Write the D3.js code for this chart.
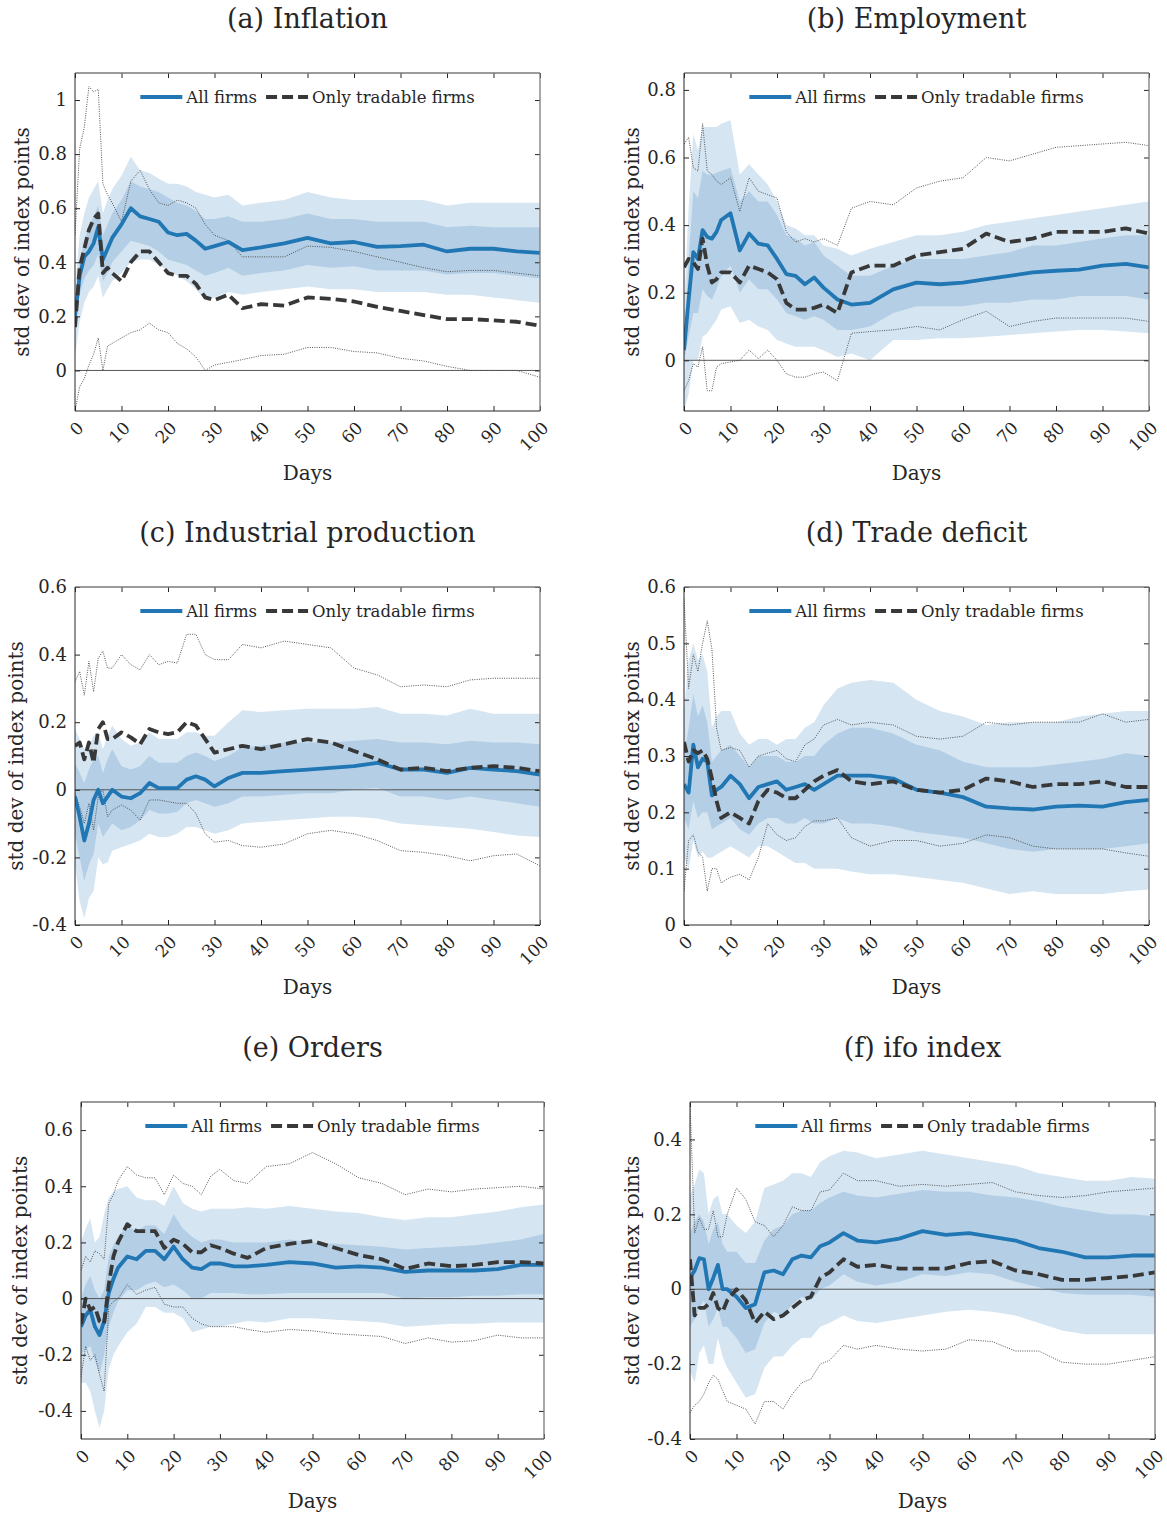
<!DOCTYPE html>
<html>
<head>
<meta charset="utf-8">
<script src="https://cdn.jsdelivr.net/npm/d3@7"></script>
<style>
  body { margin: 0; background: #fff; }
  svg { display: block; }
  text { font-family: "DejaVu Serif", serif; fill: #262626; }
</style>
</head>
<body>
<div id="chart"></div>
<script>
var days = [0, 1, 2, 3, 4, 5, 6, 7, 8, 10, 12, 14, 16, 18, 20, 22, 24, 26, 28, 30, 33, 36, 40, 45, 50, 55, 60, 65, 70, 75, 80, 85, 90, 95, 100];
var xTicks = [0, 10, 20, 30, 40, 50, 60, 70, 80, 90, 100];

// (a) Inflation
var aMean    = [0.20,0.35,0.42,0.44,0.47,0.53,0.41,0.45,0.49, 0.54,0.60,0.57,0.56,0.55,0.51,0.50,0.505,0.48,0.45,0.46, 0.475,0.445,0.455, 0.47,0.49,0.47,0.475,0.457,0.46,0.465,0.44,0.45,0.45,0.44,0.435];
var aInnerHi = [0.24,0.40,0.48,0.53,0.57,0.61,0.50,0.54,0.58, 0.63,0.70,0.68,0.67,0.66,0.64,0.62,0.61,0.59,0.56,0.56, 0.57,0.55,0.55, 0.56,0.58,0.56,0.56,0.55,0.55,0.55,0.53,0.535,0.53,0.53,0.53];
var aInnerLo = [0.15,0.28,0.34,0.37,0.39,0.43,0.33,0.36,0.40, 0.44,0.48,0.47,0.46,0.44,0.41,0.40,0.39,0.37,0.35,0.36, 0.38,0.35,0.36, 0.37,0.39,0.38,0.385,0.37,0.37,0.37,0.355,0.36,0.36,0.35,0.34];
var aOuterHi = [0.30,0.50,0.58,0.64,0.67,0.70,0.58,0.63,0.67, 0.72,0.79,0.74,0.73,0.71,0.69,0.69,0.68,0.66,0.65,0.64, 0.65,0.61,0.62, 0.63,0.66,0.64,0.63,0.63,0.63,0.63,0.61,0.62,0.62,0.62,0.62];
var aOuterLo = [0.05,0.18,0.25,0.29,0.31,0.35,0.27,0.30,0.33, 0.36,0.40,0.41,0.41,0.39,0.37,0.35,0.33,0.30,0.26,0.27, 0.29,0.28,0.29, 0.30,0.31,0.30,0.30,0.29,0.29,0.29,0.28,0.28,0.27,0.26,0.25];
var aTrad    = [0.16,0.38,0.45,0.52,0.56,0.58,0.36,0.38,0.36, 0.33,0.40,0.44,0.44,0.40,0.36,0.35,0.35,0.32,0.27,0.26, 0.28,0.23,0.245, 0.24,0.27,0.265,0.255,0.235,0.22,0.205,0.19,0.19,0.185,0.18,0.165];
var aTradHi  = [0.50,0.82,0.90,1.05,1.03,1.04,0.69,0.65,0.62, 0.55,0.70,0.74,0.67,0.62,0.61,0.63,0.62,0.60,0.54,0.50, 0.48,0.42,0.42, 0.42,0.46,0.455,0.44,0.42,0.40,0.38,0.365,0.37,0.37,0.36,0.35];
var aTradLo  = [-0.15,-0.06,-0.03,0.02,0.06,0.12,0.0,0.09,0.10, 0.12,0.14,0.15,0.175,0.15,0.14,0.10,0.08,0.05,0.0,0.02, 0.03,0.04,0.055, 0.06,0.085,0.085,0.07,0.065,0.045,0.035,0.015,0.0,0.0,0.0,-0.025];

// (b) Employment
var bMean    = [0.03,0.18,0.32,0.30,0.385,0.365,0.36,0.38,0.415, 0.435,0.325,0.375,0.345,0.34,0.30,0.255,0.25,0.225,0.245,0.215, 0.18,0.165,0.17, 0.21,0.23,0.225,0.23,0.24,0.25,0.26,0.265,0.268,0.28,0.285,0.275];
var bInnerHi = [0.05,0.30,0.50,0.48,0.56,0.55,0.55,0.555,0.56, 0.57,0.47,0.50,0.47,0.47,0.43,0.37,0.36,0.34,0.35,0.31, 0.28,0.25,0.25, 0.28,0.30,0.30,0.30,0.31,0.32,0.34,0.34,0.35,0.36,0.37,0.37];
var bInnerLo = [0.0,0.07,0.14,0.14,0.21,0.19,0.18,0.21,0.25, 0.28,0.20,0.24,0.21,0.21,0.18,0.14,0.13,0.12,0.13,0.12, 0.09,0.09,0.10, 0.14,0.16,0.16,0.16,0.17,0.17,0.18,0.18,0.19,0.19,0.19,0.18];
var bOuterHi = [0.15,0.45,0.67,0.62,0.69,0.69,0.69,0.69,0.70, 0.71,0.55,0.58,0.55,0.52,0.47,0.40,0.39,0.37,0.37,0.34, 0.33,0.31,0.33, 0.35,0.37,0.37,0.38,0.40,0.41,0.42,0.43,0.44,0.45,0.46,0.47];
var bOuterLo = [-0.15,-0.10,0.0,0.0,0.07,0.08,0.10,0.12,0.15, 0.16,0.11,0.12,0.10,0.09,0.06,0.05,0.04,0.04,0.04,0.03, 0.01,0.02,0.0, 0.06,0.06,0.065,0.065,0.07,0.075,0.08,0.085,0.09,0.09,0.085,0.08];
var bTrad    = [0.275,0.30,0.29,0.27,0.36,0.28,0.23,0.24,0.26, 0.26,0.23,0.28,0.27,0.26,0.24,0.17,0.15,0.15,0.155,0.165, 0.14,0.26,0.28, 0.28,0.31,0.32,0.33,0.375,0.35,0.36,0.38,0.38,0.38,0.39,0.375];
var bTradHi  = [0.64,0.66,0.57,0.56,0.70,0.56,0.55,0.53,0.52, 0.54,0.44,0.54,0.50,0.49,0.48,0.38,0.35,0.36,0.35,0.36, 0.34,0.45,0.47, 0.46,0.51,0.53,0.54,0.60,0.59,0.61,0.63,0.635,0.64,0.645,0.635];
var bTradLo  = [-0.09,-0.06,-0.01,-0.02,0.04,-0.09,-0.09,-0.02,-0.01, -0.005,0.0,0.03,0.005,0.03,0.0,-0.04,-0.05,-0.05,-0.04,-0.035, -0.06,0.08,0.085, 0.09,0.10,0.09,0.12,0.145,0.10,0.115,0.125,0.125,0.125,0.125,0.115];

// (c) Industrial production
var cMean    = [-0.02,-0.08,-0.15,-0.10,-0.03,0.0,-0.04,-0.02,0.0, -0.02,-0.025,-0.01,0.02,0.005,0.005,0.005,0.03,0.04,0.03,0.01, 0.035,0.05,0.05, 0.055,0.06,0.065,0.07,0.08,0.06,0.06,0.05,0.065,0.06,0.055,0.045];
var cInnerHi = [0.08,0.05,0.02,0.06,0.09,0.10,0.05,0.09,0.12, 0.07,0.06,0.07,0.10,0.08,0.08,0.08,0.10,0.11,0.10,0.085, 0.10,0.125,0.13, 0.14,0.14,0.14,0.145,0.15,0.14,0.14,0.135,0.145,0.14,0.14,0.135];
var cInnerLo = [-0.13,-0.20,-0.27,-0.22,-0.19,-0.10,-0.14,-0.12,-0.10, -0.12,-0.11,-0.09,-0.06,-0.07,-0.07,-0.065,-0.04,-0.03,-0.04,-0.05, -0.04,-0.02,-0.02, -0.015,-0.01,-0.01,0.0,0.005,-0.02,-0.02,-0.03,-0.02,-0.03,-0.04,-0.05];
var cOuterHi = [0.18,0.15,0.12,0.13,0.16,0.17,0.12,0.16,0.19, 0.15,0.13,0.14,0.17,0.15,0.15,0.15,0.17,0.17,0.16,0.16, 0.20,0.235,0.23, 0.235,0.24,0.24,0.24,0.245,0.225,0.225,0.22,0.24,0.225,0.225,0.225];
var cOuterLo = [-0.22,-0.33,-0.38,-0.32,-0.30,-0.20,-0.22,-0.215,-0.18, -0.17,-0.16,-0.15,-0.13,-0.14,-0.14,-0.13,-0.11,-0.11,-0.12,-0.13, -0.12,-0.10,-0.095, -0.09,-0.085,-0.08,-0.08,-0.085,-0.10,-0.105,-0.11,-0.115,-0.125,-0.135,-0.14];
var cTrad    = [0.13,0.14,0.09,0.14,0.08,0.18,0.20,0.15,0.15, 0.17,0.155,0.135,0.18,0.17,0.165,0.17,0.20,0.19,0.15,0.11, 0.12,0.13,0.12, 0.135,0.15,0.14,0.115,0.09,0.06,0.065,0.055,0.065,0.07,0.065,0.055];
var cTradHi  = [0.32,0.35,0.28,0.38,0.29,0.39,0.41,0.36,0.36, 0.40,0.37,0.355,0.40,0.37,0.38,0.375,0.46,0.46,0.40,0.385, 0.385,0.43,0.42, 0.44,0.43,0.42,0.36,0.34,0.305,0.31,0.305,0.325,0.33,0.33,0.33];
var cTradLo  = [-0.01,-0.05,-0.10,-0.04,-0.12,-0.02,0.0,-0.08,-0.06, -0.045,-0.06,-0.09,-0.03,-0.03,-0.035,-0.04,-0.04,-0.07,-0.13,-0.155, -0.15,-0.165,-0.17, -0.16,-0.13,-0.12,-0.13,-0.15,-0.18,-0.185,-0.195,-0.21,-0.195,-0.19,-0.225];

// (d) Trade deficit
var dMean    = [0.25,0.235,0.32,0.28,0.295,0.29,0.23,0.24,0.245, 0.265,0.25,0.225,0.245,0.25,0.255,0.24,0.245,0.25,0.24,0.25, 0.265,0.265,0.265, 0.26,0.24,0.235,0.227,0.21,0.207,0.205,0.21,0.212,0.21,0.218,0.222];
var dInnerHi = [0.30,0.35,0.41,0.37,0.39,0.36,0.29,0.30,0.31, 0.32,0.30,0.28,0.30,0.30,0.30,0.29,0.29,0.30,0.30,0.32, 0.34,0.35,0.35, 0.34,0.32,0.31,0.29,0.28,0.28,0.28,0.285,0.29,0.295,0.305,0.30];
var dInnerLo = [0.19,0.17,0.22,0.19,0.20,0.20,0.17,0.175,0.18, 0.19,0.17,0.16,0.18,0.19,0.19,0.18,0.18,0.19,0.18,0.18, 0.19,0.18,0.18, 0.175,0.165,0.16,0.155,0.145,0.135,0.13,0.135,0.135,0.135,0.14,0.145];
var dOuterHi = [0.38,0.47,0.50,0.47,0.48,0.45,0.35,0.37,0.38, 0.38,0.34,0.32,0.33,0.33,0.32,0.33,0.33,0.35,0.36,0.39, 0.42,0.43,0.435, 0.43,0.40,0.38,0.37,0.355,0.36,0.36,0.36,0.37,0.375,0.38,0.38];
var dOuterLo = [0.12,0.10,0.15,0.12,0.13,0.12,0.12,0.125,0.13, 0.14,0.13,0.12,0.14,0.14,0.13,0.12,0.11,0.11,0.10,0.10, 0.10,0.095,0.09, 0.09,0.085,0.08,0.075,0.065,0.055,0.06,0.055,0.055,0.055,0.06,0.063];
var dTrad    = [0.325,0.29,0.31,0.305,0.31,0.295,0.26,0.22,0.19, 0.20,0.19,0.18,0.22,0.24,0.235,0.225,0.225,0.24,0.255,0.265, 0.275,0.255,0.25, 0.255,0.24,0.235,0.24,0.26,0.255,0.245,0.25,0.25,0.255,0.245,0.245];
var dTradHi  = [0.58,0.42,0.48,0.45,0.50,0.54,0.49,0.35,0.31, 0.315,0.31,0.28,0.30,0.305,0.31,0.295,0.29,0.32,0.33,0.355, 0.365,0.355,0.36, 0.355,0.335,0.33,0.335,0.36,0.355,0.36,0.36,0.36,0.375,0.36,0.365];
var dTradLo  = [0.06,0.15,0.16,0.13,0.12,0.06,0.10,0.10,0.075, 0.085,0.09,0.08,0.12,0.18,0.16,0.15,0.155,0.175,0.185,0.185, 0.19,0.155,0.14, 0.15,0.15,0.14,0.145,0.16,0.155,0.14,0.135,0.135,0.135,0.128,0.122];

// (e) Orders
var eMean    = [-0.10,-0.06,-0.04,-0.10,-0.13,-0.08,0.02,0.07,0.11, 0.15,0.14,0.17,0.17,0.14,0.185,0.14,0.11,0.105,0.125,0.125, 0.115,0.115,0.12, 0.13,0.125,0.11,0.115,0.11,0.095,0.10,0.10,0.10,0.105,0.12,0.12];
var eInnerHi = [0.0,0.05,0.08,0.03,0.0,0.03,0.15,0.19,0.22, 0.26,0.24,0.26,0.26,0.23,0.30,0.25,0.22,0.20,0.21,0.21, 0.20,0.20,0.20, 0.21,0.20,0.195,0.19,0.185,0.175,0.18,0.185,0.19,0.20,0.21,0.23];
var eInnerLo = [-0.20,-0.18,-0.17,-0.22,-0.27,-0.20,-0.10,-0.05,-0.01, 0.03,0.03,0.05,0.06,0.04,0.05,0.03,0.0,0.0,0.02,0.02, 0.02,0.015,0.015, 0.02,0.02,0.02,0.02,0.02,0.0,0.005,0.005,0.01,0.01,0.015,0.015];
var eOuterHi = [0.20,0.25,0.285,0.20,0.22,0.30,0.36,0.38,0.39, 0.40,0.36,0.35,0.35,0.33,0.40,0.34,0.32,0.31,0.32,0.32, 0.32,0.325,0.32, 0.33,0.32,0.31,0.305,0.29,0.28,0.29,0.29,0.30,0.31,0.325,0.335];
var eOuterLo = [-0.30,-0.30,-0.33,-0.40,-0.46,-0.40,-0.25,-0.20,-0.17, -0.12,-0.09,-0.03,-0.03,-0.05,-0.05,-0.07,-0.12,-0.11,-0.10,-0.10, -0.09,-0.08,-0.085, -0.07,-0.07,-0.075,-0.08,-0.085,-0.10,-0.095,-0.09,-0.09,-0.085,-0.085,-0.085];
var eTrad    = [-0.09,0.0,-0.04,-0.03,-0.08,-0.09,0.05,0.15,0.20, 0.265,0.24,0.24,0.24,0.18,0.21,0.195,0.165,0.165,0.19,0.18, 0.16,0.145,0.18, 0.195,0.205,0.18,0.155,0.14,0.105,0.125,0.115,0.12,0.13,0.13,0.125];
var eTradHi  = [0.10,0.15,0.13,0.17,0.16,0.14,0.34,0.37,0.42, 0.47,0.44,0.43,0.43,0.37,0.44,0.41,0.40,0.37,0.435,0.46, 0.42,0.41,0.47, 0.48,0.52,0.48,0.43,0.41,0.37,0.39,0.38,0.39,0.395,0.40,0.39];
var eTradLo  = [-0.28,-0.17,-0.22,-0.20,-0.27,-0.33,-0.03,-0.01,0.0, 0.05,0.015,0.03,0.04,-0.02,-0.03,-0.03,-0.07,-0.09,-0.10,-0.10, -0.10,-0.11,-0.12, -0.11,-0.115,-0.125,-0.13,-0.135,-0.16,-0.14,-0.155,-0.15,-0.13,-0.14,-0.14];

// (f) ifo index
var fMean    = [0.03,0.05,0.083,0.08,0.0,0.03,0.065,0.0,0.0, -0.02,-0.05,-0.04,0.045,0.05,0.04,0.08,0.09,0.085,0.115,0.125, 0.15,0.13,0.125, 0.135,0.155,0.145,0.15,0.14,0.13,0.11,0.10,0.085,0.085,0.09,0.09];
var fInnerHi = [0.15,0.18,0.20,0.18,0.12,0.16,0.18,0.12,0.10, 0.10,0.07,0.07,0.13,0.16,0.17,0.20,0.21,0.21,0.23,0.245, 0.26,0.25,0.245, 0.255,0.265,0.26,0.26,0.25,0.245,0.235,0.22,0.21,0.20,0.20,0.195];
var fInnerLo = [-0.10,-0.08,-0.05,-0.03,-0.10,-0.08,-0.05,-0.10,-0.10, -0.13,-0.17,-0.16,-0.09,-0.06,-0.07,-0.04,-0.02,-0.03,0.0,0.01, 0.04,0.02,0.01, 0.02,0.04,0.035,0.045,0.04,0.02,0.005,-0.01,-0.015,-0.015,-0.015,-0.02];
var fOuterHi = [0.25,0.28,0.32,0.31,0.20,0.24,0.25,0.20,0.20, 0.17,0.15,0.18,0.27,0.28,0.29,0.31,0.31,0.30,0.34,0.355, 0.37,0.365,0.35, 0.36,0.37,0.36,0.35,0.34,0.33,0.31,0.30,0.29,0.29,0.30,0.295];
var fOuterLo = [-0.22,-0.25,-0.17,-0.15,-0.20,-0.20,-0.13,-0.18,-0.21, -0.25,-0.29,-0.28,-0.21,-0.18,-0.18,-0.15,-0.13,-0.13,-0.10,-0.09, -0.07,-0.085,-0.09, -0.08,-0.07,-0.06,-0.055,-0.06,-0.07,-0.09,-0.11,-0.12,-0.12,-0.12,-0.12];
var fTrad    = [0.08,-0.07,-0.05,-0.05,-0.04,-0.01,-0.05,-0.06,-0.03, 0.0,-0.03,-0.09,-0.06,-0.08,-0.07,-0.05,-0.03,-0.02,0.03,0.045, 0.08,0.06,0.065, 0.055,0.055,0.055,0.07,0.075,0.05,0.04,0.025,0.025,0.03,0.035,0.045];
var fTradHi  = [0.50,0.15,0.19,0.16,0.16,0.21,0.14,0.14,0.20, 0.27,0.24,0.18,0.17,0.14,0.17,0.22,0.21,0.21,0.26,0.265, 0.31,0.29,0.29, 0.275,0.28,0.275,0.28,0.285,0.26,0.25,0.245,0.25,0.26,0.265,0.27];
var fTradLo  = [-0.33,-0.31,-0.30,-0.28,-0.25,-0.23,-0.24,-0.27,-0.30, -0.31,-0.32,-0.36,-0.30,-0.30,-0.32,-0.28,-0.25,-0.24,-0.20,-0.19, -0.15,-0.16,-0.15, -0.16,-0.165,-0.16,-0.135,-0.14,-0.165,-0.165,-0.195,-0.20,-0.20,-0.19,-0.18];

var legendLabels = ['All firms', 'Only tradable firms'];

// panel layout (plot box in page pixels)
var panels = [
  { title: '(a) Inflation', x0: 75, x1: 540, y0: 73, y1: 411, yDomain: [-0.15, 1.1], yTicks: [0, 0.2, 0.4, 0.6, 0.8, 1], yLabelX: 22,
    mean: aMean, inHi: aInnerHi, inLo: aInnerLo, outHi: aOuterHi, outLo: aOuterLo, trad: aTrad, tHi: aTradHi, tLo: aTradLo },
  { title: '(b) Employment', x0: 684, x1: 1149, y0: 73, y1: 411, yDomain: [-0.15, 0.85], yTicks: [0, 0.2, 0.4, 0.6, 0.8], yLabelX: 632,
    mean: bMean, inHi: bInnerHi, inLo: bInnerLo, outHi: bOuterHi, outLo: bOuterLo, trad: bTrad, tHi: bTradHi, tLo: bTradLo },
  { title: '(c) Industrial production', x0: 75, x1: 540, y0: 587, y1: 925, yDomain: [-0.4, 0.6], yTicks: [-0.4, -0.2, 0, 0.2, 0.4, 0.6], yLabelX: 16,
    mean: cMean, inHi: cInnerHi, inLo: cInnerLo, outHi: cOuterHi, outLo: cOuterLo, trad: cTrad, tHi: cTradHi, tLo: cTradLo },
  { title: '(d) Trade deficit', x0: 684, x1: 1149, y0: 587, y1: 925, yDomain: [0, 0.6], yTicks: [0, 0.1, 0.2, 0.3, 0.4, 0.5, 0.6], yLabelX: 632,
    mean: dMean, inHi: dInnerHi, inLo: dInnerLo, outHi: dOuterHi, outLo: dOuterLo, trad: dTrad, tHi: dTradHi, tLo: dTradLo },
  { title: '(e) Orders', x0: 81, x1: 544, y0: 1102, y1: 1439, yDomain: [-0.5, 0.7], yTicks: [-0.4, -0.2, 0, 0.2, 0.4, 0.6], yLabelX: 20,
    mean: eMean, inHi: eInnerHi, inLo: eInnerLo, outHi: eOuterHi, outLo: eOuterLo, trad: eTrad, tHi: eTradHi, tLo: eTradLo },
  { title: '(f) ifo index', x0: 690, x1: 1155, y0: 1102, y1: 1439, yDomain: [-0.4, 0.5], yTicks: [-0.4, -0.2, 0, 0.2, 0.4], yLabelX: 632,
    mean: fMean, inHi: fInnerHi, inLo: fInnerLo, outHi: fOuterHi, outLo: fOuterLo, trad: fTrad, tHi: fTradHi, tLo: fTradLo }
];

var W = 1167, H = 1518;
var blue = '#2176b4', dark = '#383838';
var svg = d3.select('#chart').append('svg').attr('width', W).attr('height', H);

var fmt = function (d) { return String(+d.toFixed(2)); };

panels.forEach(function (p, k) {
  var x = d3.scaleLinear().domain([0, 100]).range([p.x0, p.x1]);
  var y = d3.scaleLinear().domain(p.yDomain).range([p.y1, p.y0]);
  var g = svg.append('g');

  var clipId = 'clip' + k;
  svg.append('clipPath').attr('id', clipId)
    .append('rect').attr('x', p.x0).attr('y', p.y0)
    .attr('width', p.x1 - p.x0).attr('height', p.y1 - p.y0);

  var plot = g.append('g').attr('clip-path', 'url(#' + clipId + ')');

  var band = function (lo) {
    return d3.area()
      .x(function (d, i) { return x(days[i]); })
      .y0(function (d, i) { return y(lo[i]); })
      .y1(function (d) { return y(d); });
  };
  var line = d3.line()
    .x(function (d, i) { return x(days[i]); })
    .y(function (d) { return y(d); });

  plot.append('path').attr('d', band(p.outLo)(p.outHi)).attr('fill', '#d5e5f2');
  plot.append('path').attr('d', band(p.inLo)(p.inHi)).attr('fill', '#b4cfe5');

  // zero line
  if (p.yDomain[0] < 0) {
    plot.append('line').attr('x1', p.x0).attr('x2', p.x1)
      .attr('y1', y(0)).attr('y2', y(0))
      .attr('stroke', '#555').attr('stroke-width', 1);
  }

  [p.tHi, p.tLo].forEach(function (s) {
    plot.append('path').attr('d', line(s)).attr('fill', 'none')
      .attr('stroke', '#444').attr('stroke-width', 0.9)
      .attr('stroke-dasharray', '1,1.3');
  });

  plot.append('path').attr('d', line(p.mean)).attr('fill', 'none')
    .attr('stroke', blue).attr('stroke-width', 3.8).attr('stroke-linejoin', 'round');
  plot.append('path').attr('d', line(p.trad)).attr('fill', 'none')
    .attr('stroke', dark).attr('stroke-width', 3.8).attr('stroke-linejoin', 'round')
    .attr('stroke-dasharray', '11,5');

  // axes: ticks pointing inward on all four sides
  var axL = g.append('g').attr('transform', 'translate(' + p.x0 + ',0)')
    .call(d3.axisLeft(y).tickValues(p.yTicks).tickSizeInner(-5).tickSizeOuter(0).tickPadding(8).tickFormat(fmt));
  g.append('g').attr('transform', 'translate(' + p.x1 + ',0)')
    .call(d3.axisRight(y).tickValues(p.yTicks).tickSizeInner(-5).tickSizeOuter(0).tickFormat(''));
  var axB = g.append('g').attr('transform', 'translate(0,' + p.y1 + ')')
    .call(d3.axisBottom(x).tickValues(xTicks).tickSizeInner(-5).tickSizeOuter(0).tickFormat(fmt));
  g.append('g').attr('transform', 'translate(0,' + p.y0 + ')')
    .call(d3.axisTop(x).tickValues(xTicks).tickSizeInner(-5).tickSizeOuter(0).tickFormat(''));

  g.selectAll('.domain').remove();
  g.selectAll('.tick line').attr('stroke', '#262626').attr('stroke-width', 1);
  axL.selectAll('text').attr('font-size', 18).attr('font-family', '"DejaVu Serif", serif').attr('fill', '#262626');
  axB.selectAll('text')
    .attr('font-size', 17).attr('font-family', '"DejaVu Serif", serif').attr('fill', '#262626')
    .attr('y', 0).attr('dy', '0.35em')
    .attr('text-anchor', 'end')
    .attr('transform', 'translate(5,14) rotate(-45)');

  // box
  g.append('line').attr('x1', p.x0).attr('x2', p.x1).attr('y1', p.y0).attr('y2', p.y0).attr('stroke', '#7a7a7a').attr('stroke-width', 1.3);
  g.append('line').attr('x1', p.x1).attr('x2', p.x1).attr('y1', p.y0).attr('y2', p.y1).attr('stroke', '#7a7a7a').attr('stroke-width', 1.3);
  g.append('line').attr('x1', p.x0).attr('x2', p.x0).attr('y1', p.y0).attr('y2', p.y1).attr('stroke', '#262626').attr('stroke-width', 1);
  g.append('line').attr('x1', p.x0).attr('x2', p.x1).attr('y1', p.y1).attr('y2', p.y1).attr('stroke', '#262626').attr('stroke-width', 1);

  // titles and labels
  var cx = (p.x0 + p.x1) / 2;
  g.append('text').attr('x', cx).attr('y', p.y0 - 45).attr('text-anchor', 'middle')
    .attr('font-size', 27).text(p.title);
  g.append('text').attr('x', cx).attr('y', p.y1 + 69).attr('text-anchor', 'middle')
    .attr('font-size', 20).text('Days');
  g.append('text').attr('transform', 'translate(' + p.yLabelX + ',' + ((p.y0 + p.y1) / 2) + ') rotate(-90)')
    .attr('dy', '0.35em').attr('text-anchor', 'middle')
    .attr('font-size', 20).text('std dev of index points');

  // legend, centred at the top of the plot box
  var lg = g.append('g');
  var ly = p.y0 + 24;
  var sample = 42, gapT = 4, gapI = 9;
  var t1 = lg.append('text').attr('font-size', 16.5).attr('dy', '0.35em').attr('y', ly).text(legendLabels[0]);
  var t2 = lg.append('text').attr('font-size', 16.5).attr('dy', '0.35em').attr('y', ly).text(legendLabels[1]);
  var w1 = t1.node().getComputedTextLength(), w2 = t2.node().getComputedTextLength();
  var total = sample + gapT + w1 + gapI + sample + gapT + w2;
  var lx = cx - total / 2;
  lg.append('line').attr('x1', lx).attr('x2', lx + sample).attr('y1', ly).attr('y2', ly)
    .attr('stroke', blue).attr('stroke-width', 3.8);
  t1.attr('x', lx + sample + gapT);
  var lx2 = lx + sample + gapT + w1 + gapI;
  lg.append('line').attr('x1', lx2).attr('x2', lx2 + sample).attr('y1', ly).attr('y2', ly)
    .attr('stroke', dark).attr('stroke-width', 3.8).attr('stroke-dasharray', '11,5');
  t2.attr('x', lx2 + sample + gapT);
});
</script>
</body>
</html>
